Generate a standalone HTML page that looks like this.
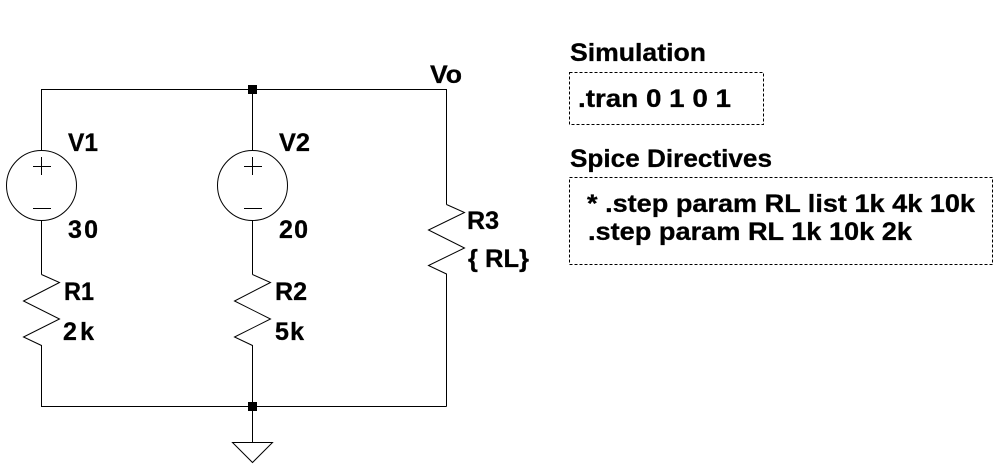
<!DOCTYPE html>
<html>
<head>
<meta charset="utf-8">
<style>
html,body{margin:0;padding:0;background:#fff;}
svg{display:block;}
text{font-family:"Liberation Sans",Arial,sans-serif;font-weight:bold;font-size:25px;fill:#000;stroke:#000;stroke-width:0.3;}
</style>
</head>
<body>
<svg width="1002" height="472" viewBox="0 0 1002 472" xmlns="http://www.w3.org/2000/svg">
<rect width="1002" height="472" fill="#fff"/>
<g stroke="#000" stroke-width="1" fill="none">
  <polyline points="41.5,150 41.5,89.5 446.5,89.5 446.5,204.5"/>
  <line x1="252.5" y1="89.5" x2="252.5" y2="150"/>
  <circle cx="41.5" cy="185.5" r="35"/>
  <line x1="33" y1="166.5" x2="51" y2="166.5"/>
  <line x1="41.5" y1="157" x2="41.5" y2="175"/>
  <line x1="33" y1="208.5" x2="51" y2="208.5"/>
  <line x1="41.5" y1="220.5" x2="41.5" y2="274.5"/>
  <circle cx="252.5" cy="185.5" r="35"/>
  <line x1="244" y1="166.5" x2="262" y2="166.5"/>
  <line x1="252.5" y1="157" x2="252.5" y2="175"/>
  <line x1="244" y1="208.5" x2="262" y2="208.5"/>
  <line x1="252.5" y1="220.5" x2="252.5" y2="274.5"/>
  <polyline points="41.5,274.5 59.5,282.5 23.5,301 59.5,319 23.5,337 41.5,345.5 41.5,406.5 446.5,406.5"/>
  <polyline points="252.5,274.5 270.5,282.5 234.5,301 270.5,319 234.5,337 252.5,345.5 252.5,442.5"/>
  <polyline points="446.5,204.5 464.5,212.5 428.5,230 464.5,248 428.5,265.5 446.5,274 446.5,406.5"/>
  <polygon points="232.5,442.5 272.5,442.5 252.5,462.5"/>
  <rect x="569.5" y="72.5" width="194" height="52" stroke-dasharray="3,2"/>
  <rect x="569.5" y="177.5" width="423" height="87" stroke-dasharray="3,2"/>
</g>
<rect x="248" y="85" width="9" height="9" fill="#000"/>
<rect x="248" y="402" width="9" height="9" fill="#000"/>
<text x="430" y="83" textLength="32" lengthAdjust="spacingAndGlyphs">Vo</text>
<text x="68" y="151" textLength="30" lengthAdjust="spacingAndGlyphs">V1</text>
<text x="68" y="238" textLength="30" lengthAdjust="spacing">30</text>
<text x="279" y="151" textLength="31" lengthAdjust="spacingAndGlyphs">V2</text>
<text x="279" y="238" textLength="29" lengthAdjust="spacing">20</text>
<text x="64" y="300" textLength="30" lengthAdjust="spacingAndGlyphs">R1</text>
<text x="63" y="340" textLength="31" lengthAdjust="spacing">2k</text>
<text x="275" y="300" textLength="32" lengthAdjust="spacingAndGlyphs">R2</text>
<text x="275" y="340" textLength="29" lengthAdjust="spacing">5k</text>
<text x="467" y="229" textLength="32" lengthAdjust="spacingAndGlyphs">R3</text>
<text x="468" y="267" textLength="61" lengthAdjust="spacingAndGlyphs">{ RL}</text>
<text x="570" y="61" textLength="136" lengthAdjust="spacingAndGlyphs">Simulation</text>
<text x="578" y="107" textLength="153" lengthAdjust="spacingAndGlyphs">.tran 0 1 0 1</text>
<text x="570" y="167" textLength="202" lengthAdjust="spacingAndGlyphs">Spice Directives</text>
<text x="587" y="212" textLength="388" lengthAdjust="spacingAndGlyphs">* .step param RL list 1k 4k 10k</text>
<text x="588" y="240" textLength="324" lengthAdjust="spacingAndGlyphs">.step param RL 1k 10k 2k</text>
</svg>
</body>
</html>
